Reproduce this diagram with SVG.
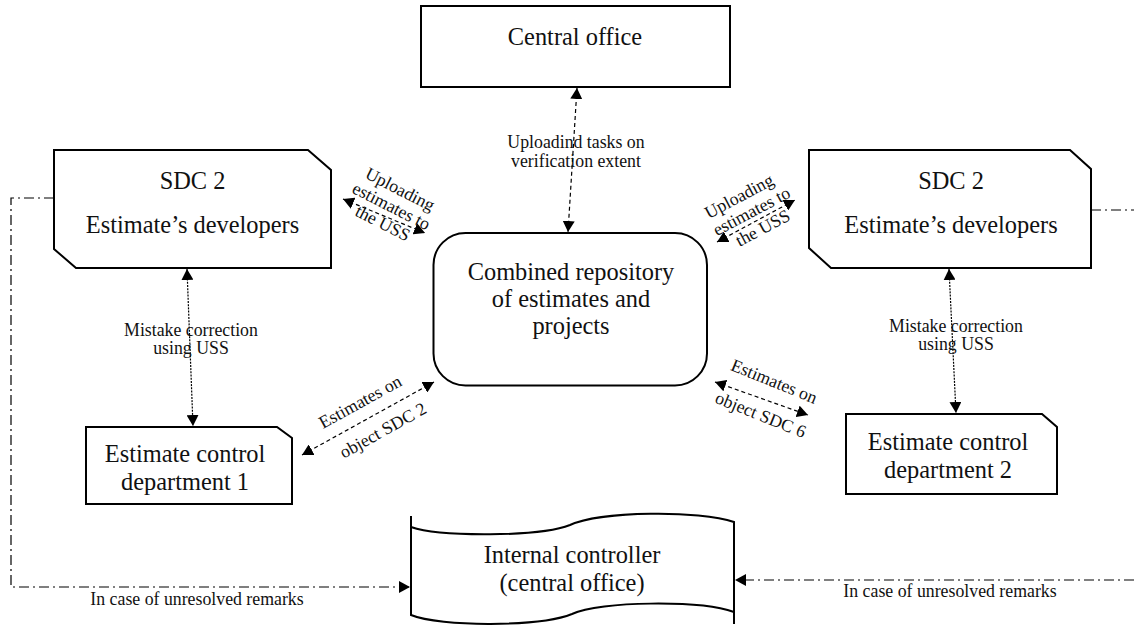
<svg xmlns="http://www.w3.org/2000/svg" width="1134" height="627" viewBox="0 0 1134 627">
<style>
  .node { fill: #fff; stroke: #000; stroke-width: 2; }
  .t { font-family: "Liberation Serif", "Times New Roman", serif; fill: #111; text-anchor: middle; }
  .big { font-size: 24.4px; }
  .sm { font-size: 17.8px; }
  .dash { fill: none; stroke: #000; stroke-width: 1.2; stroke-dasharray: 4 3; }
  .dot { fill: none; stroke: #000; stroke-width: 1.2; stroke-dasharray: 2 1.2; }
  .dd { fill: none; stroke: #000; stroke-width: 1.2; stroke-dasharray: 10 4 2 4; }
</style>
<defs>
  <marker id="ah" markerUnits="userSpaceOnUse" markerWidth="12" markerHeight="12" refX="11" refY="6" orient="auto-start-reverse" viewBox="0 0 12 12">
    <path d="M0,0 L11,6 L0,12 Z" fill="#000"/>
  </marker>
</defs>
<rect width="1134" height="627" fill="#fff"/>

<g id="central-office">
  <rect class="node" x="421" y="6" width="309" height="81"/>
  <text class="t big" x="575" y="45">Central office</text>
</g>

<g id="sdc-left">
  <path class="node" d="M54,150 L308,150 L331,170 L331,268 L76,268 L54,249 Z"/>
  <text class="t big" x="192.5" y="189">SDC 2</text>
  <text class="t big" x="192.5" y="233">Estimate’s developers</text>
</g>

<g id="sdc-right">
  <path class="node" d="M809,150 L1070,150 L1091,169 L1091,268 L831,268 L809,248 Z"/>
  <text class="t big" x="951" y="189">SDC 2</text>
  <text class="t big" x="951" y="233">Estimate’s developers</text>
</g>

<g id="repository">
  <rect class="node" x="433.5" y="233" width="273.5" height="152.5" rx="32" ry="32"/>
  <text class="t big" x="571" y="280">Combined repository</text>
  <text class="t big" x="571" y="307">of estimates and</text>
  <text class="t big" x="571" y="334">projects</text>
</g>

<g id="ecd1">
  <path class="node" d="M86,427 L277,427 L292,438 L292,504 L86,504 Z"/>
  <text class="t big" x="185" y="462">Estimate control</text>
  <text class="t big" x="185" y="490">department 1</text>
</g>

<g id="ecd2">
  <path class="node" d="M846,414 L1042,414 L1057,427 L1057,494 L846,494 Z"/>
  <text class="t big" x="948" y="450">Estimate control</text>
  <text class="t big" x="948" y="478">department 2</text>
</g>

<g id="internal-controller">
  <path class="node" d="M411,527 C440,537 540,537 570,525 C600,511 700,510 734,522 L734,612 C700,600 600,601 572,614 C540,627 440,627 411,615 Z"/>
  <path d="M411,516 L411,527 M734,612 L734,624" stroke="#000" stroke-width="2" fill="none"/>
  <text class="t big" x="572" y="563">Internal controller</text>
  <text class="t big" x="572" y="591">(central office)</text>
</g>

<g id="connectors">
  <line class="dash" x1="577" y1="88" x2="568" y2="232" marker-start="url(#ah)" marker-end="url(#ah)"/>
  <line class="dash" x1="343" y1="199" x2="425" y2="233" marker-start="url(#ah)" marker-end="url(#ah)"/>
  <line class="dash" x1="717" y1="242" x2="795" y2="200" marker-start="url(#ah)" marker-end="url(#ah)"/>
  <line class="dot" x1="187" y1="269" x2="193" y2="426" marker-start="url(#ah)" marker-end="url(#ah)"/>
  <line class="dot" x1="949" y1="269" x2="956" y2="413" marker-start="url(#ah)" marker-end="url(#ah)"/>
  <line class="dash" x1="302" y1="455" x2="434" y2="382" marker-start="url(#ah)" marker-end="url(#ah)"/>
  <line class="dash" x1="715" y1="382" x2="808" y2="415" marker-start="url(#ah)" marker-end="url(#ah)"/>
  <polyline class="dd" points="54,198 11,198 11,587 410,587" marker-end="url(#ah)"/>
  <line class="dd" x1="1091" y1="210" x2="1134" y2="210"/>
  <line class="dd" x1="1134" y1="580" x2="735" y2="580" marker-end="url(#ah)"/>
</g>

<g id="labels">
  <text class="t sm" x="576" y="148">Uploadind tasks on</text>
  <text class="t sm" x="576" y="167">verification extent</text>

  <g transform="translate(391,207) rotate(27)">
    <text class="t sm" x="0" y="-14">Uploading</text>
    <text class="t sm" x="0" y="5">estimates to</text>
    <text class="t sm" x="0" y="24">the USS</text>
  </g>
  <g transform="translate(752,212) rotate(-28)">
    <text class="t sm" x="-4" y="-14">Uploading</text>
    <text class="t sm" x="0" y="5">estimates to</text>
    <text class="t sm" x="2" y="25">the USS</text>
  </g>

  <text class="t sm" x="191" y="336">Mistake correction</text>
  <text class="t sm" x="191" y="354">using USS</text>
  <text class="t sm" x="956" y="332">Mistake correction</text>
  <text class="t sm" x="956" y="350">using USS</text>

  <g transform="translate(371.5,416) rotate(-29)">
    <text class="t sm" x="-3" y="-12">Estimates on</text>
    <text class="t sm" x="3" y="24">object SDC 2</text>
  </g>
  <g transform="translate(767.5,398) rotate(22)">
    <text class="t sm" x="0" y="-12">Estimates on</text>
    <text class="t sm" x="0" y="24">object SDC 6</text>
  </g>

  <text class="t sm" x="197" y="605">In case of unresolved remarks</text>
  <text class="t sm" x="950" y="597">In case of unresolved remarks</text>
</g>
</svg>
